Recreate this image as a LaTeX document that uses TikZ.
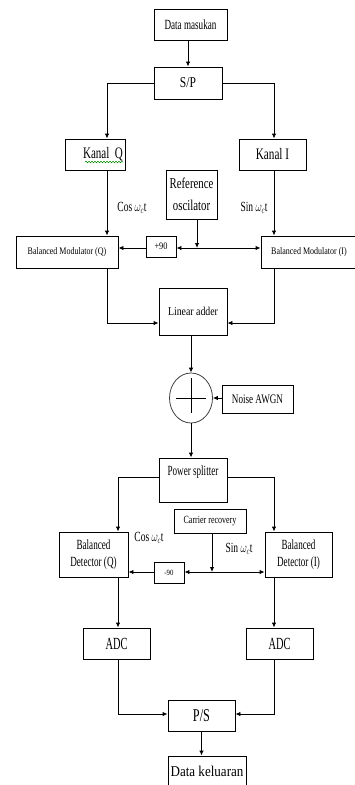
\documentclass[tikz,border=0pt]{standalone}
\usepackage{fontspec}
\setmainfont{Liberation Serif}
\usepackage{graphicx}
\usetikzlibrary{arrows.meta,decorations.pathmorphing,shapes.geometric,calc}
\newcommand\Tx[3]{{\fontsize{#1}{#1}\selectfont\scalebox{#2}[1]{#3}}}
\tikzset{
  box/.style={draw, line width=0.9pt, inner sep=0pt, anchor=center},
  plain/.style={inner sep=0pt, anchor=center},
  conn/.style={line width=0.9pt},
  arr/.style={line width=0.9pt, -{Latex[length=5pt,width=4.5pt]}}
}
\begin{document}
\begin{tikzpicture}[x=1pt,y=-1pt]
\useasboundingbox (0,0) rectangle (355,785);
\fill[white] (0,0) rectangle (355,785);
\clip (0,0) rectangle (355,785);

% helper coordinates
\coordinate (xq) at (107,0);
\coordinate (xi) at (274,0);
\coordinate (xdq) at (118,0);
\coordinate (yla) at (0,323);
\coordinate (yps) at (0,477);
\coordinate (ypo) at (0,714);
\coordinate (j1) at (197,248);
\coordinate (j2) at (212,572);

% transmitter
\node[box,minimum width=73,minimum height=31] (din) at (190.5,24.5) {\Tx{14}{0.65}{Data masukan}};
\node[box,minimum width=68,minimum height=32] (sp) at (188,83) {\Tx{15}{0.77}{S/P}};
\node[box,minimum width=60,minimum height=31] (kq) at (95,154.5) {};
\node[plain] (kqt) at (103,154) {\Tx{16}{0.69}{Kanal\ \ Q}};
\node[box,minimum width=67,minimum height=31] (ki) at (272.5,154.5) {\Tx{16}{0.70}{Kanal I}};
\node[box,minimum width=51,minimum height=49,align=center,font=\fontsize{15}{22}\selectfont] (ref) at (191.5,194.5)
  {\Tx{15}{0.72}{Reference}\\\Tx{15}{0.72}{oscilator}};
\node[plain] (cos1) at (132,208) {\Tx{14}{0.68}{Cos $\omega_c$t}};
\node[plain] (sin1) at (254,208) {\Tx{14}{0.68}{Sin $\omega_c$t}};
\node[box,minimum width=102,minimum height=32] (bmq) at (67,252) {\Tx{10}{0.8}{Balanced Modulator (Q)}};
\node[box,minimum width=96,minimum height=32] (bmi) at (309,252) {\Tx{10}{0.8}{Balanced Modulator (I)}};
\node[box,minimum width=30,minimum height=21] (p90) at (161,246.5) {\Tx{10}{0.83}{+90}};
\node[box,minimum width=68,minimum height=47] (la) at (193,311.5) {\Tx{12}{0.82}{Linear adder}};
\node[ellipse,draw=black!75,line width=0.8pt,minimum width=43,minimum height=50,inner sep=0pt] (sum) at (191,398) {};
\node[box,minimum width=71,minimum height=28] (noise) at (257.5,399) {\Tx{13}{0.70}{Noise AWGN}};

% receiver
\node[box,minimum width=68,minimum height=44] (ps) at (193,480) {};
\node[plain] (pst) at (193,472) {\Tx{14}{0.65}{Power splitter}};
\node[box,minimum width=72,minimum height=24] (cr) at (210,521) {\Tx{11}{0.73}{Carrier recovery}};
\node[box,minimum width=69,minimum height=45,align=center,font=\fontsize{14}{17}\selectfont] (bdq) at (93.5,554.5)
  {\Tx{14}{0.65}{Balanced}\\\Tx{14}{0.65}{Detector (Q)}};
\node[box,minimum width=67,minimum height=45,align=center,font=\fontsize{14}{17}\selectfont] (bdi) at (298.5,554.5)
  {\Tx{14}{0.65}{Balanced}\\\Tx{14}{0.65}{Detector (I)}};
\node[box,minimum width=30,minimum height=21] (m90) at (169,572.5) {\Tx{8}{0.85}{-90}};
\node[plain] (cos2) at (149,538) {\Tx{14}{0.68}{Cos $\omega_c$t}};
\node[plain] (sin2) at (239,549) {\Tx{14}{0.68}{Sin $\omega_c$t}};
\node[box,minimum width=67,minimum height=31] (adcq) at (116.5,643.5) {\Tx{17}{0.61}{ADC}};
\node[box,minimum width=67,minimum height=31] (adci) at (279.5,643.5) {\Tx{17}{0.61}{ADC}};
\node[box,minimum width=67,minimum height=31] (pso) at (201.5,715.5) {\Tx{18}{0.68}{P/S}};
\node[box,minimum width=78,minimum height=31] (dout) at (207,771.5) {\Tx{15}{0.87}{Data keluaran}};

% spell-check underline
\draw[green!55!black,line width=0.5pt,decorate,decoration={snake,segment length=3pt,amplitude=0.8pt}]
  (85,162) -- (123,162);

% cross in summing circle
\draw[line width=0.8pt] ($(sum.center)+(-15,0)$) -- ($(sum.center)+(15,0)$);
\draw[line width=0.8pt] ($(sum.center)+(0,-20)$) -- ($(sum.center)+(0,15)$);

% connectors transmitter
\draw[arr] (sp.north |- din.south) -- (sp.north);
\draw[arr] (sp.west) -| (xq |- kq.north);
\draw[arr] (sp.east) -| (xi |- ki.north);
\draw[arr] (xq |- kq.south) -- (xq |- bmq.north);
\draw[arr] (xi |- ki.south) -- (xi |- bmi.north);
\draw[arr] (j1 |- ref.south) -- (j1);
\draw[arr] (j1) -- (j1 -| p90.east);
\draw[arr] (j1) -- (j1 -| bmi.west);
\draw[arr] (j1 -| p90.west) -- (j1 -| bmq.east);
\draw[arr] (xq |- bmq.south) |- (la.west |- yla);
\draw[arr] (xi |- bmi.south) |- (la.east |- yla);
\draw[arr] (la.south -| sum.north) -- (sum.north);
\draw[arr] (sum.east -| noise.west) -- (sum.east);
\draw[arr] (sum.south) -- (sum.south |- ps.north);

% connectors receiver
\draw[arr] (ps.west |- yps) -| (xdq |- bdq.north);
\draw[arr] (ps.east |- yps) -| (xi |- bdi.north);
\draw[arr] (j2 |- cr.south) -- (j2);
\draw[arr] (j2) -- (j2 -| m90.east);
\draw[arr] (j2) -- (j2 -| bdi.west);
\draw[arr] (j2 -| m90.west) -- (j2 -| bdq.east);
\draw[arr] (xdq |- bdq.south) -- (xdq |- adcq.north);
\draw[arr] (xi |- bdi.south) -- (xi |- adci.north);
\draw[arr] (xdq |- adcq.south) |- (pso.west |- ypo);
\draw[arr] (xi |- adci.south) |- (pso.east |- ypo);
\draw[arr] (pso.south) -- (pso.south |- dout.north);
\end{tikzpicture}
\end{document}
